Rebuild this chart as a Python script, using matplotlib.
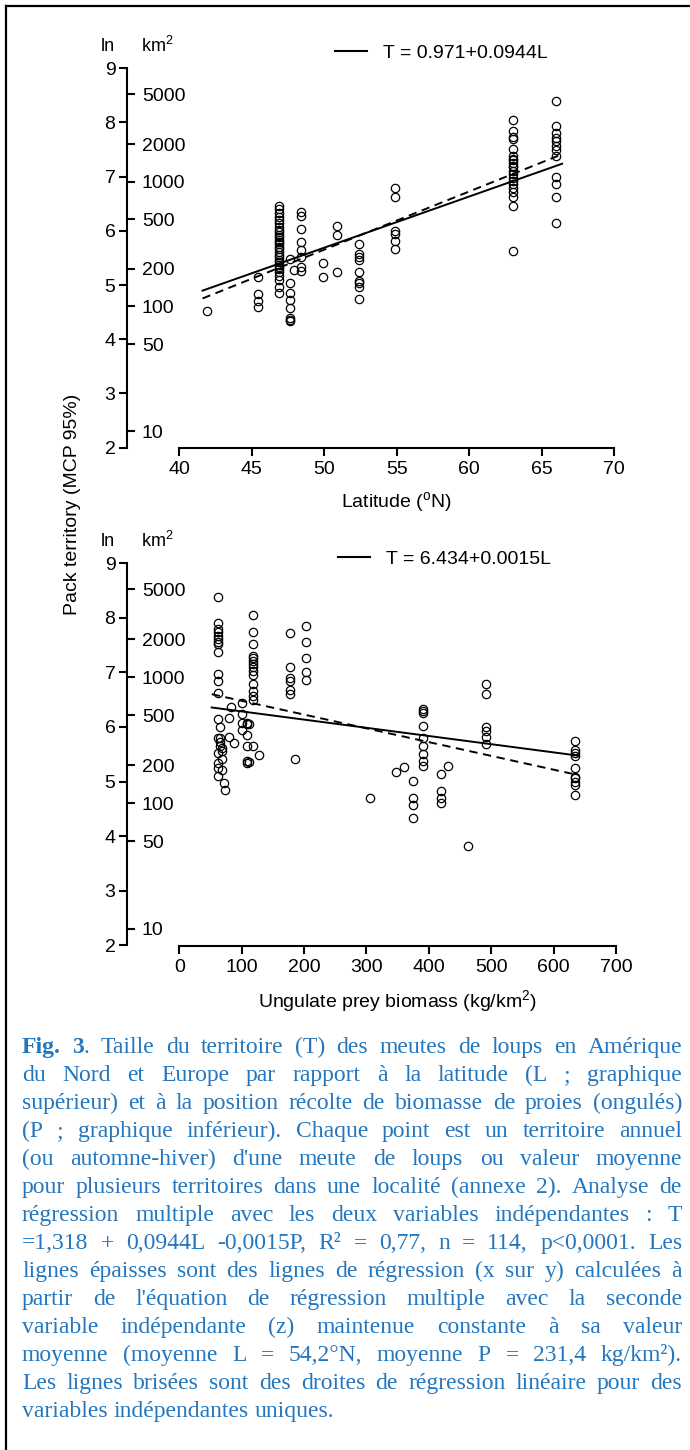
import numpy as np
import matplotlib
matplotlib.use('Agg')
import matplotlib.pyplot as plt
from matplotlib.lines import Line2D
import matplotlib.transforms as mtransforms

plt.rcParams['font.family'] = ['Liberation Sans', 'DejaVu Sans']
plt.rcParams['lines.scale_dashes'] = False

# ---------------- data ----------------
# Top panel: latitude (deg N) groups and ln(territory km2) values
top_lat = [41.9, 45.4, 46.9, 47.6, 47.9, 48.4, 49.9, 50.9, 52.4, 54.9, 63.0, 66.0]
top_ln = [
    [4.52],
    [5.15, 4.83, 4.70, 4.60],
    [6.46, 6.40, 6.33, 6.26, 6.20, 6.14, 6.08, 6.02, 5.98, 5.93, 5.89, 5.84, 5.80, 5.75,
     5.71, 5.66, 5.61, 5.56, 5.52, 5.47, 5.43, 5.38, 5.34, 5.29, 5.24, 5.17, 5.09, 4.97, 4.86],
    [5.49, 5.03, 4.86, 4.72, 4.57, 4.40, 4.36, 4.34],
    [5.27],
    [6.34, 6.28, 6.03, 5.80, 5.64, 5.52, 5.34, 5.26],
    [5.41, 5.15],
    [6.09, 5.93, 5.24],
    [5.75, 5.58, 5.52, 5.46, 5.24, 5.08, 5.03, 4.97, 4.75],
    [6.80, 6.63, 6.00, 5.95, 5.81, 5.67],
    [8.05, 7.85, 7.73, 7.70, 7.51, 7.39, 7.33, 7.30, 7.25, 7.20, 7.17, 7.11, 7.05, 6.98,
     6.92, 6.86, 6.80, 6.71, 6.62, 6.46, 5.63],
    [8.40, 7.93, 7.80, 7.71, 7.65, 7.57, 7.49, 7.38, 6.99, 6.86, 6.63, 6.14],
]
top_solid = (0.971, 0.0944)     # multiple-regression line
top_dashed = (0.29, 0.1073)     # simple regression line
top_line_x = (41.6, 66.4)
top_xticks = [40, 45, 50, 55, 60, 65, 70]
top_legend = "T = 0.971+0.0944L"
top_xlabel = r"Latitude ($^\mathregular{o}$N)"

# Bottom panel: ungulate prey biomass (kg/km2) groups and ln(territory km2)
bot_prey = [61.5, 65, 68, 71, 74, 80, 83, 87, 101, 109, 112, 118, 127, 177, 185, 203,
            306, 348, 360, 375, 390, 419, 431, 462, 491, 635]
bot_ln = [
    [8.37, 7.91, 7.79, 7.73, 7.67, 7.61, 7.55, 7.52, 7.38, 6.96, 6.84, 6.63, 6.14, 5.80,
     5.52, 5.34, 5.25, 5.11],
    [5.99, 5.80, 5.72, 5.66],
    [5.62, 5.56, 5.42, 5.22],
    [4.97],
    [4.85],
    [6.17, 5.82],
    [6.37],
    [5.71],
    [6.43, 6.23, 6.08, 5.95],
    [6.08, 6.06, 5.86, 5.65, 5.37, 5.34],
    [6.06, 5.36],
    [8.05, 7.73, 7.52, 7.30, 7.27, 7.21, 7.15, 7.09, 7.03, 6.95, 6.78, 6.66, 6.57, 6.50, 5.65],
    [5.49],
    [7.72, 7.10, 6.90, 6.84, 6.67, 6.60],
    [5.41],
    [7.85, 7.56, 7.27, 7.01, 6.85],
    [4.70],
    [5.17],
    [5.27],
    [5.01, 4.70, 4.57, 4.34],
    [6.33, 6.29, 6.26, 6.01, 5.80, 5.65, 5.51, 5.37, 5.28],
    [5.14, 4.82, 4.70, 4.60],
    [5.29],
    [3.83],
    [6.78, 6.60, 5.99, 5.92, 5.81, 5.68],
    [5.75, 5.58, 5.52, 5.47, 5.25, 5.09, 5.06, 5.00, 4.94, 4.76],
]
bot_solid = (6.434, -0.0015)
bot_dashed = (6.73, -0.00252)
bot_line_x = (52, 640)
bot_xticks = [0, 100, 200, 300, 400, 500, 600, 700]
bot_legend = "T = 6.434+0.0015L"
bot_xlabel = r"Ungulate prey biomass (kg/km$^\mathregular{2}$)"

ln_ticks = [2, 3, 4, 5, 6, 7, 8, 9]
km_ticks = [10, 50, 100, 200, 500, 1000, 2000, 5000]
ylabel = "Pack territory (MCP 95%)"

caption_lines = [
    "Fig. 3. Taille du territoire (T) des meutes de loups en Amérique",
    "du Nord et Europe par rapport à la latitude (L ; graphique",
    "supérieur) et à la position récolte de biomasse de proies (ongulés)",
    "(P ; graphique inférieur). Chaque point est un territoire annuel",
    "(ou automne-hiver) d'une meute de loups ou valeur moyenne",
    "pour plusieurs territoires dans une localité (annexe 2). Analyse de",
    "régression multiple avec les deux variables indépendantes : T",
    "=1,318 + 0,0944L -0,0015P, R² = 0,77, n = 114, p<0,0001. Les",
    "lignes épaisses sont des lignes de régression (x sur y) calculées à",
    "partir de l'équation de régression multiple avec la seconde",
    "variable indépendante (z) maintenue constante à sa valeur",
    "moyenne (moyenne L = 54,2°N, moyenne P = 231,4 kg/km²).",
    "Les lignes brisées sont des droites de régression linéaire pour des",
    "variables indépendantes uniques.",
]
caption_bold = "Fig. 3"

# ---------------- figure ----------------
W, H = 690, 1450
fig = plt.figure(figsize=(W / 100, H / 100), dpi=100)
fig.patch.set_facecolor('white')

TICK_FS = 14
LW_AX = 1.5


def px_axes(left, right, top, bottom):
    return fig.add_axes([left / W, 1 - bottom / H, (right - left) / W, (bottom - top) / H])


def panel(ax, xs, ygroups, xlim, xticks, solid, dashed, line_x, legend_txt, leg_xy, xlabel):
    ax.set_xlim(*xlim)
    ax.set_ylim(2, 9)
    for s in ['top', 'right']:
        ax.spines[s].set_visible(False)
    ax.spines['left'].set_bounds(2, 9)
    ax.spines['bottom'].set_bounds(xticks[0], xticks[-1])
    for s in ['left', 'bottom']:
        ax.spines[s].set_linewidth(LW_AX)
    ax.set_yticks(ln_ticks)
    ax.set_xticks(xticks)
    ax.tick_params(axis='y', direction='out', length=5.5, width=LW_AX, pad=3, labelsize=TICK_FS)
    ax.tick_params(axis='x', direction='out', length=5.5, width=LW_AX, pad=4, labelsize=TICK_FS)
    ax.patch.set_visible(False)

    px = np.concatenate([[x] * len(g) for x, g in zip(xs, ygroups)])
    py = np.concatenate([np.array(g) for g in ygroups])
    ax.plot(px, py, linestyle='none', marker='o', ms=6.0, mfc='none', mec='black', mew=0.9,
            clip_on=False, zorder=3)

    lx = np.array(line_x)
    ax.plot(lx, solid[0] + solid[1] * lx, color='black', lw=1.4, zorder=4)
    ax.plot(lx, dashed[0] + dashed[1] * lx, color='black', lw=1.4, dashes=(6, 4), zorder=4)

    ax.legend(handles=[Line2D([], [], color='black', lw=1.5)], labels=[legend_txt],
              loc='center left', bbox_to_anchor=leg_xy, frameon=False, fontsize=TICK_FS,
              borderpad=0, borderaxespad=0, handlelength=1.65, handletextpad=0.8)

    ax.set_xlabel(xlabel, fontsize=TICK_FS)
    trans = mtransforms.blended_transform_factory(ax.transData, ax.transAxes)
    ax.xaxis.set_label_coords(np.mean([xticks[0], xticks[-1]]), -0.112, transform=trans)


def km_axis(left, top, bottom):
    axk = fig.add_axes([(left - 40) / W, 1 - bottom / H, 40 / W, (bottom - top) / H])
    axk.set_ylim(2, 9)
    axk.patch.set_visible(False)
    for s in axk.spines.values():
        s.set_visible(False)
    axk.set_xticks([])
    axk.yaxis.tick_right()
    axk.set_yticks(np.log(km_ticks))
    axk.set_yticklabels([str(v) for v in km_ticks])
    axk.tick_params(axis='y', direction='out', length=5.5, width=LW_AX, pad=5, labelsize=TICK_FS)
    return axk


# top panel
L1, R1, T1, B1 = 127.3, 614.3, 68.3, 447.7
ax1 = px_axes(L1, R1, T1, B1)
panel(ax1, top_lat, top_ln, (36.41, 70), top_xticks, top_solid, top_dashed, top_line_x,
      top_legend, ((335 - L1) / (R1 - L1), (B1 - 53.3) / (B1 - T1)), top_xlabel)
km_axis(L1, T1, B1)

# bottom panel
L2, R2, T2, B2 = 127.3, 616.0, 563.0, 945.5
ax2 = px_axes(L2, R2, T2, B2)
panel(ax2, bot_prey, bot_ln, (-83.3, 700), bot_xticks, bot_solid, bot_dashed, bot_line_x,
      bot_legend, ((338 - L2) / (R2 - L2), (B2 - 559.5) / (B2 - T2)), bot_xlabel)
km_axis(L2, T2, B2)

# "ln" / "km2" headers
for top in (T1, T2):
    fig.text(107.5 / W, 1 - (top - 22) / H, 'ln', ha='center', va='center', fontsize=13)
    fig.text(141 / W, 1 - (top - 22) / H, r'km$^\mathregular{2}$', ha='left', va='center',
             fontsize=13)

# shared y label
fig.text(72.3 / W, 1 - 504 / H, ylabel, rotation=90, ha='center', va='center', fontsize=TICK_FS)

# border (left and top)
fig.add_artist(Line2D([6 / W, 6 / W], [0, 1 - 6 / H], transform=fig.transFigure,
                      color='black', lw=1.6))
fig.add_artist(Line2D([6 / W, 1], [1 - 6 / H, 1 - 6 / H], transform=fig.transFigure,
                      color='black', lw=1.6))

# ---------------- caption (justified) ----------------
CAP_COLOR = '#2477BE'
CAP_FAMILY = 'Liberation Serif'
cap_left, cap_right = 22.0, 682.0
cap_y0, cap_dy = 1053.0, 28.0
renderer = fig.canvas.get_renderer()


def measure(s, size, weight='normal'):
    t = fig.text(0, 0, s, fontsize=size, family=CAP_FAMILY, weight=weight)
    w = t.get_window_extent(renderer=renderer).width
    t.remove()
    return w


def word_segments(li, wi, word):
    if li == 0:
        bold_words = caption_bold.split()
        if wi < len(bold_words) and word.startswith(bold_words[wi]):
            b = bold_words[wi]
            segs = [(b, 'bold')]
            if len(word) > len(b):
                segs.append((word[len(b):], 'normal'))
            return segs
    return [(word, 'normal')]


lines_words = [[word_segments(li, wi, w) for wi, w in enumerate(line.split(' '))]
               for li, line in enumerate(caption_lines)]

avail = cap_right - cap_left
ref = 16.0
space_ref = measure('a a', ref) - measure('aa', ref)
need = []
for words in lines_words[:-1]:
    wsum = sum(measure(s, ref, wt) for wd in words for s, wt in wd)
    need.append(wsum + space_ref * (len(words) - 1))
cap_fs = min(17.0, ref * avail / max(need) * 0.995)
space_w = measure('a a', cap_fs) - measure('aa', cap_fs)

for li, words in enumerate(lines_words):
    y = cap_y0 + li * cap_dy
    widths = [[measure(s, cap_fs, wt) for s, wt in wd] for wd in words]
    total = sum(sum(w) for w in widths)
    last = li == len(lines_words) - 1
    gap = space_w if (last or len(words) < 2) else (avail - total) / (len(words) - 1)
    x = cap_left
    for wd, ws in zip(words, widths):
        for (s, wt), w in zip(wd, ws):
            fig.text(x / W, 1 - y / H, s, fontsize=cap_fs, family=CAP_FAMILY, weight=wt,
                     color=CAP_COLOR, ha='left', va='baseline')
            x += w
        x += gap

fig.savefig('out.png', dpi=100, facecolor='white')
